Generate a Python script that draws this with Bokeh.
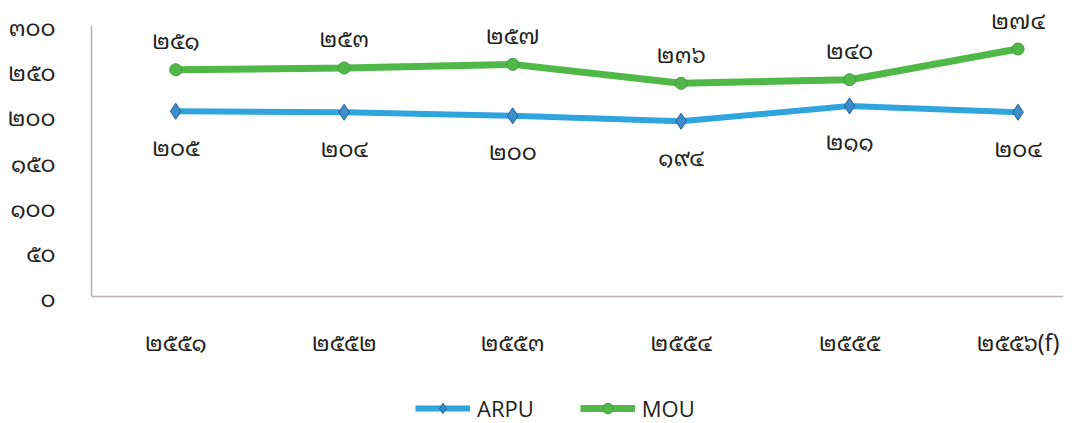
from bokeh.plotting import figure
from bokeh.models import ColumnDataSource, LabelSet, Legend, LegendItem, FixedTicker, Range1d, Span
from bokeh.core.properties import value
from bokeh.embed import file_html
from bokeh.resources import INLINE

categories = ["๒๕๕๑", "๒๕๕๒", "๒๕๕๓", "๒๕๕๔", "๒๕๕๕", "๒๕๕๖(f)"]
arpu = [205, 204, 200, 194, 211, 204]
mou = [251, 253, 257, 236, 240, 274]
y_ticks = [0, 50, 100, 150, 200, 250, 300]

THAI = str.maketrans("0123456789", "๐๑๒๓๔๕๖๗๘๙")
def th(n):
    return str(n).translate(THAI)

x = list(range(len(categories)))
src = ColumnDataSource(dict(x=x, arpu=arpu, mou=mou, base=[0] * len(x), cat=categories,
                            arpu_t=[th(v) for v in arpu],
                            mou_t=[th(v) for v in mou]))

FONT = "Noto Sans Thai Looped, Noto Sans Thai, Loma, Garuda, Waree, sans-serif"
FS = "23px"
AXIS_COLOR = "#b9b0b0"
TEXT_COLOR = "#231f20"

p = figure(width=1077, height=423, output_backend="svg", toolbar_location=None,
           x_range=Range1d(-0.5, 5.27), y_range=Range1d(-140.6, 327.7),
           min_border_left=91, min_border_top=0, min_border_right=14, min_border_bottom=0)
p.outline_line_color = None
p.xgrid.visible = False
p.ygrid.visible = False
p.xaxis.visible = False

yax = p.yaxis[0]
yax.axis_line_color = AXIS_COLOR
yax.axis_line_width = 1.5
yax.major_tick_line_color = None
yax.minor_tick_line_color = None
yax.major_label_text_font = FONT
yax.major_label_text_color = TEXT_COLOR
yax.major_label_text_font_size = FS
yax.bounds = (0, 300)
yax.ticker = FixedTicker(ticks=y_ticks)
yax.major_label_overrides = {v: th(v) for v in y_ticks}
yax.major_label_standoff = 30

# category axis baseline and labels
p.add_layout(Span(location=0, dimension="width", line_color=AXIS_COLOR, line_width=1.5))
p.add_layout(LabelSet(x="x", y="base", text="cat", source=src, y_offset=-44,
                      text_align="center", text_baseline="middle",
                      text_font=value(FONT), text_font_size=FS, text_color=TEXT_COLOR))

r_a_line = p.line("x", "arpu", source=src, color="#2fa4de", line_width=6)
r_a_pts = p.scatter("x", "arpu", source=src, marker="diamond", size=16,
                    fill_color="#3d8ccc", line_color="#1f5f99", line_width=1)
r_m_line = p.line("x", "mou", source=src, color="#4fb848", line_width=7)
r_m_pts = p.scatter("x", "mou", source=src, marker="circle", size=12,
                    fill_color="#4fb848", line_color="#3e9a3a", line_width=1)

p.add_layout(LabelSet(x="x", y="mou", text="mou_t", source=src, y_offset=31,
                      text_align="center", text_baseline="middle",
                      text_font=value(FONT), text_font_size=FS, text_color=TEXT_COLOR))
p.add_layout(LabelSet(x="x", y="arpu", text="arpu_t", source=src, y_offset=-34,
                      text_align="center", text_baseline="middle",
                      text_font=value(FONT), text_font_size=FS, text_color=TEXT_COLOR))

legend = Legend(items=[LegendItem(label="ARPU", renderers=[r_a_line, r_a_pts]),
                       LegendItem(label="MOU", renderers=[r_m_line, r_m_pts])],
                orientation="horizontal", location=(324, 0),
                glyph_width=55, glyph_height=26, spacing=46, padding=0, margin=0,
                label_text_font="Open Sans", label_text_font_size="22px",
                label_text_color=TEXT_COLOR, label_standoff=7,
                border_line_color=None, background_fill_alpha=0)
p.add_layout(legend, "center")

open("out.html", "w").write(file_html(p, INLINE))
